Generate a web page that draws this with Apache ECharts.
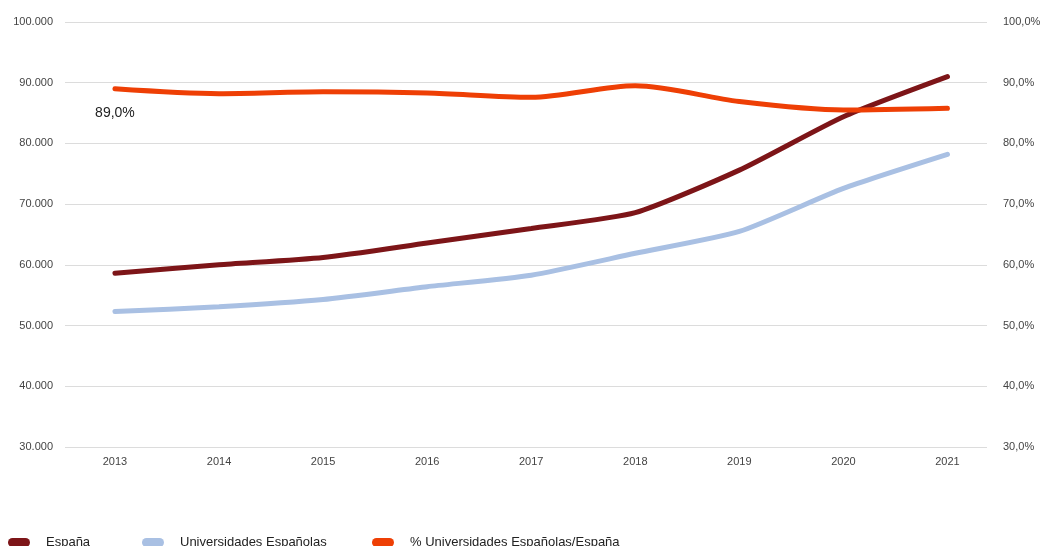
<!DOCTYPE html>
<html>
<head>
<meta charset="utf-8">
<script src="https://cdn.jsdelivr.net/npm/echarts@6/dist/echarts.min.js"></script>
<style>
html,body{margin:0;padding:0;background:#fff;}
#c{width:1049px;height:546px;}
</style>
</head>
<body>
<div id="c"></div>
<script>
var years = [2013, 2014, 2015, 2016, 2017, 2018, 2019, 2020, 2021];
var espana = [58600, 60000, 61200, 63600, 66000, 68600, 75600, 84400, 91000];
var universidades = [52300, 53100, 54300, 56400, 58300, 61900, 65500, 72600, 78200];
var porcentaje = [89.0, 88.2, 88.5, 88.3, 87.6, 89.5, 86.9, 85.5, 85.8];
var seriesNames = ['España', 'Universidades Españolas', '% Universidades Españolas/España'];
var colors = ['#7d1518', '#a9c0e3', '#ee3f05'];

function pairs(arr) { return years.map(function (y, i) { return [y, arr[i]]; }); }
function fmtThousands(v) { return String(v).replace(/\B(?=(\d{3})+(?!\d))/g, '.'); }
function fmtPct(v) { return v.toFixed(1).replace('.', ',') + '%'; }

var font = 'Liberation Sans, Arial, sans-serif';
var pill = 'path://M4.5,0 H17.5 A4.5,4.5 0 0 1 17.5,9 H4.5 A4.5,4.5 0 0 1 4.5,0 Z';

function legendAt(left, name) {
  return {
    left: left, top: 536, padding: 0, data: [name], icon: pill,
    itemWidth: 22, itemHeight: 9, selectedMode: false,
    textStyle: { fontSize: 13, color: '#222', fontFamily: font, padding: [0, 0, 0, 11] }
  };
}

var chart = echarts.init(document.getElementById('c'), null, { renderer: 'canvas' });
chart.setOption({
  animation: false,
  color: colors,
  grid: { left: 65, right: 62, top: 22, bottom: 99 },
  legend: [legendAt(8, seriesNames[0]), legendAt(142, seriesNames[1]), legendAt(372, seriesNames[2])],
  xAxis: {
    type: 'value', min: 2012.52, max: 2021.38,
    axisLine: { show: false }, axisTick: { show: false }, splitLine: { show: false },
    axisLabel: {
      customValues: years, margin: 9, fontSize: 11, color: '#444', fontFamily: font,
      formatter: function (v) { return String(Math.round(v)); }
    }
  },
  yAxis: [
    {
      type: 'value', min: 30000, max: 100000, interval: 10000,
      axisLine: { show: false }, axisTick: { show: false },
      splitLine: { lineStyle: { color: '#dcdcdc', width: 1 } },
      axisLabel: { margin: 12, fontSize: 11, color: '#444', fontFamily: font, formatter: fmtThousands }
    },
    {
      type: 'value', min: 30, max: 100, interval: 10, position: 'right',
      axisLine: { show: false }, axisTick: { show: false }, splitLine: { show: false },
      axisLabel: { margin: 16, fontSize: 11, color: '#444', fontFamily: font, formatter: fmtPct }
    }
  ],
  series: [
    { name: seriesNames[0], type: 'line', yAxisIndex: 0, data: pairs(espana), smooth: 0.2,
      symbol: 'none', lineStyle: { width: 5, color: colors[0], cap: 'round' }, z: 3 },
    { name: seriesNames[1], type: 'line', yAxisIndex: 0, data: pairs(universidades), smooth: 0.2,
      symbol: 'none', lineStyle: { width: 5, color: colors[1], cap: 'round' }, z: 2 },
    { name: seriesNames[2], type: 'line', yAxisIndex: 1, data: pairs(porcentaje), smooth: 0.3,
      symbol: 'none', lineStyle: { width: 5, color: colors[2], cap: 'round' }, z: 4,
      markPoint: {
        symbol: 'circle', symbolSize: 2,
        itemStyle: { color: 'rgba(0,0,0,0)' },
        label: {
          show: true, position: 'bottom', distance: 16,
          fontSize: 14, color: '#222', fontFamily: font,
          formatter: function (p) { return fmtPct(p.data.coord[1]); }
        },
        data: [{ coord: [years[0], porcentaje[0]] }]
      }
    }
  ]
});
</script>
</body>
</html>
